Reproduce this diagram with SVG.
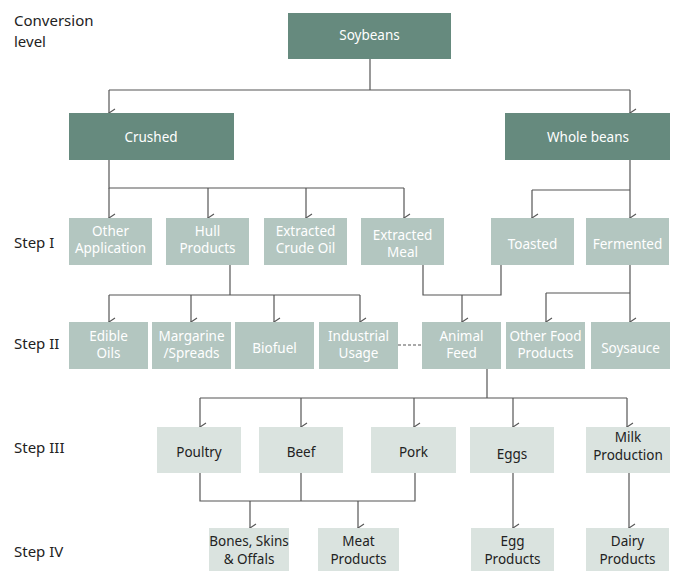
<svg xmlns="http://www.w3.org/2000/svg" width="675" height="571" viewBox="0 0 675 571">
<style>
text{font-family:"Noto Sans","Open Sans","DejaVu Sans",sans-serif;}
.lbl{font-size:15px;fill:#222;}
.t{font-size:13.5px;text-anchor:middle;}
.d rect{fill:#668a7e;}
.d text{fill:#fff;}
.m rect{fill:#b3c6c0;}
.m text{fill:#fff;}
.l rect{fill:#dae3df;}
.l text{fill:#222;}
.c{fill:none;stroke:#555;stroke-width:1.2;}
.a{marker-end:url(#arr);}
</style>
<defs>
<marker id="arr" markerWidth="10" markerHeight="10" refX="5" refY="9" orient="auto" markerUnits="userSpaceOnUse" viewBox="0 0 10 10">
<path d="M1,3 L5,9 L9,3" fill="none" stroke="#555" stroke-width="1.1"/>
</marker>
</defs>
<rect width="675" height="571" fill="#fff"/>
<g id="labels">
<text class="lbl" x="14" y="26">Conversion</text>
<text class="lbl" x="14" y="47">level</text>
<text class="lbl" x="14" y="248">Step I</text>
<text class="lbl" x="14" y="349">Step II</text>
<text class="lbl" x="14" y="453">Step III</text>
<text class="lbl" x="14" y="557">Step IV</text>
</g>
<g id="connectors">
<path class="c" d="M370,59 V90 M109,90 H630"/>
<path class="c a" d="M109,90 V113"/>
<path class="c a" d="M630,90 V113"/>
<path class="c" d="M109,160 V188 H404"/>
<path class="c a" d="M109,188 V218"/>
<path class="c a" d="M208,188 V218"/>
<path class="c a" d="M306,188 V218"/>
<path class="c a" d="M404,188 V218"/>
<path class="c" d="M630,160 V190 M532,190 H630"/>
<path class="c a" d="M532,190 V218"/>
<path class="c a" d="M630,190 V218"/>
<path class="c" d="M230,265 V295 M109,295 H360"/>
<path class="c a" d="M109,295 V322"/>
<path class="c a" d="M191,295 V322"/>
<path class="c a" d="M274,295 V322"/>
<path class="c a" d="M360,295 V322"/>
<path class="c" d="M423,265 V295 H501 V265"/>
<path class="c a" d="M462,295 V322"/>
<path class="c" d="M630,265 V293 M546,293 H630"/>
<path class="c a" d="M546,293 V322"/>
<path class="c a" d="M630,293 V322"/>
<path class="c" d="M398,345 H422" stroke-dasharray="3,2"/>
<path class="c" d="M487,369 V398 M200,398 H627"/>
<path class="c a" d="M200,398 V427"/>
<path class="c a" d="M301,398 V427"/>
<path class="c a" d="M414,398 V427"/>
<path class="c a" d="M513,398 V427"/>
<path class="c a" d="M627,398 V427"/>
<path class="c" d="M200,473 V501 H415 V473 M301,473 V501"/>
<path class="c a" d="M250,501 V528"/>
<path class="c a" d="M358,501 V528"/>
<path class="c a" d="M513,473 V528"/>
<path class="c a" d="M629,473 V528"/>
</g>
<g id="soybeans" class="d"><rect x="288" y="13" width="163" height="46"/><text class="t" x="369.5" y="40">Soybeans</text></g>
<g id="crushed" class="d"><rect x="69" y="113" width="165" height="47"/><text class="t" x="151" y="142">Crushed</text></g>
<g id="whole-beans" class="d"><rect x="505" y="113" width="165" height="47"/><text class="t" x="588" y="142">Whole beans</text></g>
<g id="other-application" class="m"><rect x="69" y="218" width="83" height="47"/><text class="t" x="110.5" y="236">Other</text><text class="t" x="110.5" y="253">Application</text></g>
<g id="hull-products" class="m"><rect x="166" y="218" width="83" height="47"/><text class="t" x="207.5" y="236">Hull</text><text class="t" x="207.5" y="253">Products</text></g>
<g id="extracted-crude-oil" class="m"><rect x="264" y="218" width="83" height="47"/><text class="t" x="305.5" y="236">Extracted</text><text class="t" x="305.5" y="253">Crude Oil</text></g>
<g id="extracted-meal" class="m"><rect x="361" y="218" width="83" height="47"/><text class="t" x="402.5" y="240">Extracted</text><text class="t" x="402.5" y="257">Meal</text></g>
<g id="toasted" class="m"><rect x="491" y="218" width="83" height="47"/><text class="t" x="532.5" y="249">Toasted</text></g>
<g id="fermented" class="m"><rect x="586" y="218" width="83" height="47"/><text class="t" x="627.5" y="249">Fermented</text></g>
<g id="edible-oils" class="m"><rect x="69" y="322" width="79" height="47"/><text class="t" x="108.5" y="341">Edible</text><text class="t" x="108.5" y="358">Oils</text></g>
<g id="margarine" class="m"><rect x="152" y="322" width="79" height="47"/><text class="t" x="191.5" y="341">Margarine</text><text class="t" x="191.5" y="358">/Spreads</text></g>
<g id="biofuel" class="m"><rect x="235" y="322" width="79" height="47"/><text class="t" x="274.5" y="353">Biofuel</text></g>
<g id="industrial-usage" class="m"><rect x="319" y="322" width="79" height="47"/><text class="t" x="358.5" y="341">Industrial</text><text class="t" x="358.5" y="358">Usage</text></g>
<g id="animal-feed" class="m"><rect x="422" y="322" width="79" height="47"/><text class="t" x="461.5" y="341">Animal</text><text class="t" x="461.5" y="358">Feed</text></g>
<g id="other-food-products" class="m"><rect x="506" y="322" width="79" height="47"/><text class="t" x="545.5" y="341">Other Food</text><text class="t" x="545.5" y="358">Products</text></g>
<g id="soysauce" class="m"><rect x="591" y="322" width="79" height="47"/><text class="t" x="630.5" y="353">Soysauce</text></g>
<g id="poultry" class="l"><rect x="157" y="427" width="84" height="46"/><text class="t" x="199" y="457">Poultry</text></g>
<g id="beef" class="l"><rect x="259" y="427" width="84" height="46"/><text class="t" x="301" y="457">Beef</text></g>
<g id="pork" class="l"><rect x="371" y="427" width="85" height="46"/><text class="t" x="413.5" y="457">Pork</text></g>
<g id="eggs" class="l"><rect x="470" y="427" width="84" height="46"/><text class="t" x="512" y="459">Eggs</text></g>
<g id="milk-production" class="l"><rect x="586" y="427" width="84" height="46"/><text class="t" x="628" y="442">Milk</text><text class="t" x="628" y="460">Production</text></g>
<g id="bones" class="l"><rect x="209" y="528" width="80" height="43"/><text class="t" x="249" y="546">Bones, Skins</text><text class="t" x="249" y="564">&amp; Offals</text></g>
<g id="meat-products" class="l"><rect x="318" y="528" width="81" height="43"/><text class="t" x="358.5" y="546">Meat</text><text class="t" x="358.5" y="564">Products</text></g>
<g id="egg-products" class="l"><rect x="471" y="528" width="83" height="43"/><text class="t" x="512.5" y="546">Egg</text><text class="t" x="512.5" y="564">Products</text></g>
<g id="dairy-products" class="l"><rect x="586" y="528" width="83" height="43"/><text class="t" x="627.5" y="546">Dairy</text><text class="t" x="627.5" y="564">Products</text></g>
</svg>
